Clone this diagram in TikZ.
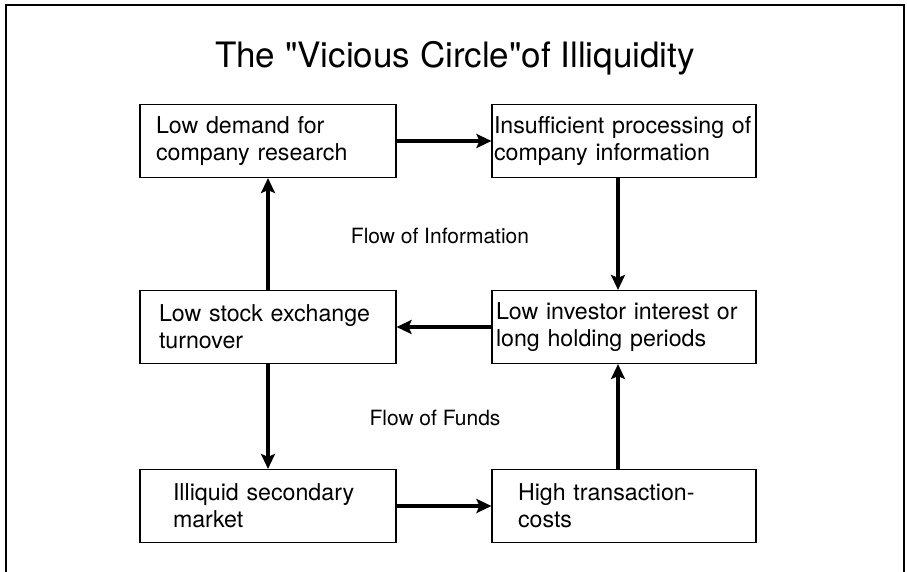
\documentclass[tikz,border=0pt]{standalone}
\usepackage{fontspec}
\setmainfont{TeX Gyre Heros}
\newfontfamily\plainquotes{TeX Gyre Heros}
\usetikzlibrary{arrows.meta}
\begin{document}
\begin{tikzpicture}
[x=1pt,y=-1pt,
  boxdecorate/.style={shape=rectangle,draw,line width=1.1pt,inner sep=0pt,
    align=left,minimum height=73pt,font=\fontsize{23.2}{27}\selectfont},
  arrowdecorate/.style={-{Stealth[length=15pt,width=14pt,inset=3pt]},line width=3.5pt},
  labeldecorate/.style={font=\fontsize{21}{24}\selectfont}]
\useasboundingbox (0,0) rectangle (907,572);
%% frame and title
\draw[line width=1.5pt] (6,572) -- (6,5) -- (904,5) -- (904,572);
\node (title) at (455,58) {\plainquotes\fontsize{35}{40}\selectfont The "Vicious Circle"of Illiquidity};
%% boxes
\foreach \nodename/\x/\y/\boxw/\textw/\txt in {
  b1/268/141/256/224/{Low demand for\\company research},
  b2/624/141/264/260/{Insufficient processing of\\company information},
  b3/268/327/256/218/{Low stock exchange\\turnover},
  b4/624/327/264/256/{Low investor interest or\\long holding periods},
  b5/268/506/256/190/{Illiquid secondary\\market},
  b6/624/506/264/212/{High transaction-\\costs}}
{
  \node (\nodename) at (\x,\y) [boxdecorate,minimum width=\boxw pt,text width=\textw pt] {\txt};
}
%% flow labels
\node (info) at (440,236) [labeldecorate] {Flow of Information};
\node (funds) at (435,418) [labeldecorate] {Flow of Funds};
%% arrows
\path
\foreach \startnode/\endnode/\shift in {b1.east/b2.west/0pt,
  b2.south/b4.north/-6pt, b4.west/b3.east/0pt, b3.north/b1.south/0pt,
  b3.south/b5.north/0pt, b5.east/b6.west/0pt, b6.north/b4.south/-6pt}
{
  ([xshift=\shift]\startnode) edge[arrowdecorate] ([xshift=\shift]\endnode)
};
\end{tikzpicture}
\end{document}
